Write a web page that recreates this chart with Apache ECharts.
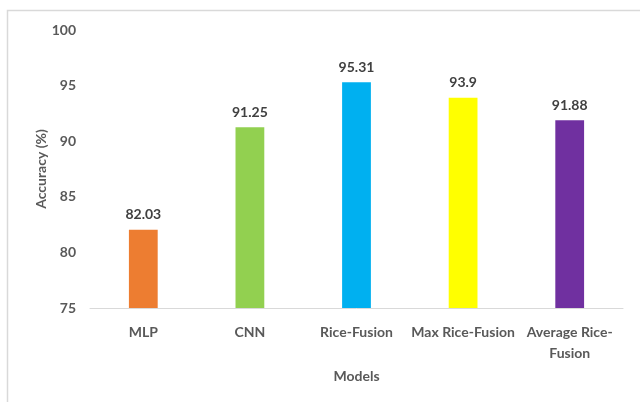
<!DOCTYPE html>
<html>
<head>
<meta charset="utf-8">
<script src="https://cdn.jsdelivr.net/npm/echarts@6/dist/echarts.min.js"></script>
<style>
  html, body { margin: 0; padding: 0; background: #fff; }
  #chart { width: 640px; height: 402px; }
</style>
</head>
<body>
<div id="chart"></div>
<script>
// Model accuracy comparison
const models = ['MLP', 'CNN', 'Rice-Fusion', 'Max Rice-Fusion', 'Average Rice-\nFusion'];
const accuracy = [82.03, 91.25, 95.31, 93.9, 91.88];
const barColors = ['#ED7D31', '#92D050', '#00B0F0', '#FFFF00', '#7030A0'];
const yTicks = [75, 80, 85, 90, 95, 100];

const textColor = '#595959';
const fontFamily = 'Lato, "Open Sans", sans-serif';

const chart = echarts.init(document.getElementById('chart'), null, { renderer: 'canvas' });

chart.setOption({
  animation: false,
  backgroundColor: '#ffffff',
  graphic: [{
    type: 'rect',
    shape: { x: 7.5, y: 10.5, width: 700, height: 500 },
    style: { fill: 'none', stroke: '#d9d9d9', lineWidth: 1.5 },
    silent: true
  }],
  grid: { left: 90, right: 17, top: 30, bottom: 94, containLabel: false },
  xAxis: {
    type: 'category',
    data: models,
    name: 'Models',
    nameLocation: 'middle',
    nameGap: 61,
    nameMoveOverlap: false,
    nameTextStyle: { color: textColor, fontSize: 14, fontWeight: 'bold', fontFamily },
    axisLine: { lineStyle: { color: '#d9d9d9', width: 1 } },
    axisTick: { show: false },
    axisLabel: {
      color: textColor, fontSize: 14, fontWeight: 'bold', fontFamily,
      margin: 14, lineHeight: 21, interval: 0
    }
  },
  yAxis: {
    type: 'value',
    min: yTicks[0],
    max: yTicks[yTicks.length - 1],
    interval: 5,
    name: 'Accuracy (%)',
    nameLocation: 'middle',
    nameGap: 42,
    nameRotate: 90,
    nameMoveOverlap: false,
    nameTextStyle: { color: textColor, fontSize: 14, fontWeight: 'bold', fontFamily },
    axisLine: { show: false },
    axisTick: { show: false },
    splitLine: { show: false },
    axisLabel: { color: textColor, fontSize: 14, fontWeight: 'bold', fontFamily, margin: 14 }
  },
  series: [{
    type: 'bar',
    barWidth: '27%',
    data: accuracy.map((v, i) => ({ value: v, itemStyle: { color: barColors[i] } })),
    label: {
      show: true,
      position: 'top',
      distance: 8,
      color: '#404040',
      fontSize: 14,
      fontWeight: 'bold',
      fontFamily
    }
  }]
});
</script>
</body>
</html>
